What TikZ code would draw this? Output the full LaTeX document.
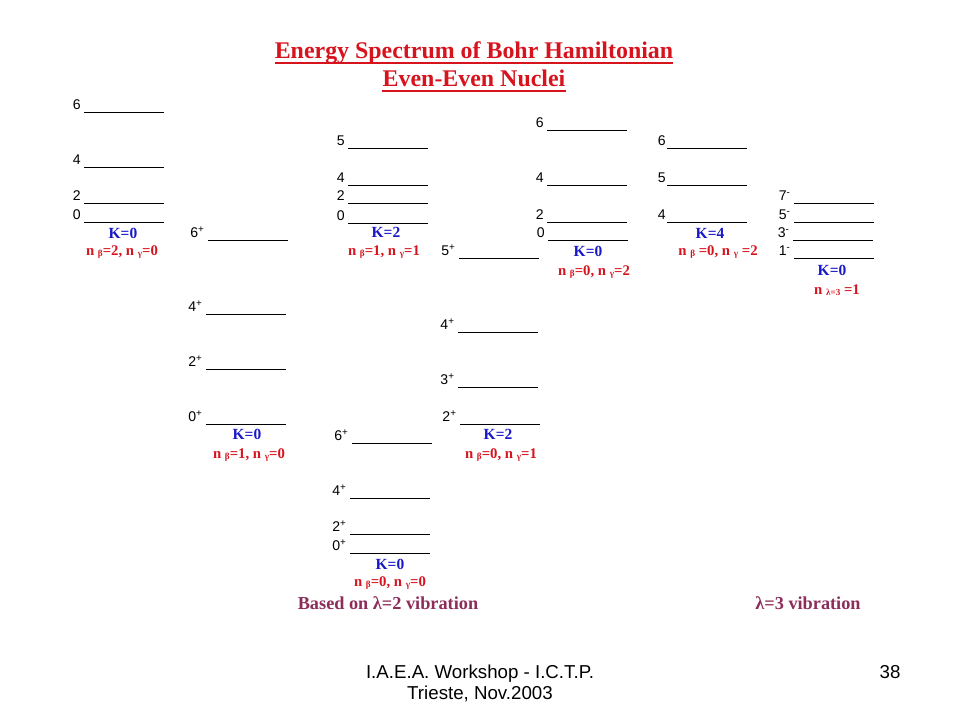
\documentclass[tikz,border=0pt]{standalone}
\usepackage{fontspec}
\setmainfont{Liberation Serif}
\newfontfamily\arialfont{Liberation Sans}
\usepackage{xcolor}
\definecolor{slidered}{RGB}{215,20,30}
\definecolor{kblue}{RGB}{25,25,200}
\definecolor{plum}{RGB}{140,45,90}
\newcommand{\sm}[1]{\raisebox{-0.7pt}{\fontsize{6.5}{6.5}\selectfont #1}}

\begin{document}
\begin{tikzpicture}[x=0.025cm, y=-0.025cm,
    lvl/.style={line width=0.7pt},
    spin/.style={anchor=base east, inner sep=0pt, xshift=-2pt, yshift=1.6pt, font=\arialfont\fontsize{10}{12}\selectfont},
    kband/.style={text=kblue, inner sep=0pt, font=\bfseries\fontsize{11}{13}\selectfont},
    quanta/.style={text=slidered, inner sep=0pt, font=\bfseries\fontsize{10.5}{12}\selectfont},
    heading/.style={anchor=base, inner sep=0pt, text=slidered, font=\bfseries\fontsize{17}{20}\selectfont},
    basis/.style={text=plum, inner sep=0pt, font=\bfseries\fontsize{13}{15}\selectfont},
    footer/.style={anchor=base, inner sep=0pt, font=\arialfont\fontsize{13.3}{16}\selectfont}]
    \useasboundingbox (0,0) rectangle (960,720);

    \node[heading] (title) at (474,59) {Energy Spectrum of Bohr Hamiltonian};
    \node[heading] (subtitle) at (474,87) {Even-Even Nuclei};
    \tikzset{underline/.style={slidered, line width=1.5pt}}
    \draw[underline] ([yshift=-2.8pt]title.base west) -- ([yshift=-2.8pt]title.base east);
    \draw[underline] ([yshift=-2.8pt]subtitle.base west) -- ([yshift=-2.8pt]subtitle.base east);

    \draw[lvl] (84,112) node[spin] (bb6) {6} -- ++(80,0);
    \draw[lvl] (84,167) node[spin] (bb4) {4} -- ++(80,0);
    \draw[lvl] (84,203) node[spin] (bb2) {2} -- ++(80,0);
    \draw[lvl] (84,222) node[spin] (bb0) {0} -- ++(80,0);
    \node[kband] (kbb) at (123,233) {K=0};
    \node[quanta] (nbb) at (122,252) {n \sm{β}=2, n \sm{γ}=0};

    \draw[lvl] (208,240) node[spin] (b6) {6\textsuperscript{+}} -- ++(80,0);
    \draw[lvl] (206,314) node[spin] (b4) {4\textsuperscript{+}} -- ++(80,0);
    \draw[lvl] (206,369) node[spin] (b2) {2\textsuperscript{+}} -- ++(80,0);
    \draw[lvl] (206,424) node[spin] (b0) {0\textsuperscript{+}} -- ++(80,0);
    \node[kband] (kb) at (247,434) {K=0};
    \node[quanta] (nb) at (249,455) {n \sm{β}=1, n \sm{γ}=0};

    \draw[lvl] (348,148) node[spin] (bg5) {5} -- ++(80,0);
    \draw[lvl] (348,185) node[spin] (bg4) {4} -- ++(80,0);
    \draw[lvl] (348,203) node[spin] (bg2) {2} -- ++(80,0);
    \draw[lvl] (348,223) node[spin] (bg0) {0} -- ++(80,0);
    \node[kband] (kbg) at (386,232) {K=2};
    \node[quanta] (nbg) at (384,252) {n \sm{β}=1, n \sm{γ}=1};

    \draw[lvl] (352,443) node[spin] (g6) {6\textsuperscript{+}} -- ++(80,0);
    \draw[lvl] (350,498) node[spin] (g4) {4\textsuperscript{+}} -- ++(80,0);
    \draw[lvl] (350,534) node[spin] (g2) {2\textsuperscript{+}} -- ++(80,0);
    \draw[lvl] (350,553) node[spin] (g0) {0\textsuperscript{+}} -- ++(80,0);
    \node[kband] (kg) at (390,564) {K=0};
    \node[quanta] (ng) at (390,583) {n \sm{β}=0, n \sm{γ}=0};

    \draw[lvl] (459,258) node[spin] (gam5) {5\textsuperscript{+}} -- ++(80,0);
    \draw[lvl] (458,332) node[spin] (gam4) {4\textsuperscript{+}} -- ++(80,0);
    \draw[lvl] (458,387) node[spin] (gam3) {3\textsuperscript{+}} -- ++(80,0);
    \draw[lvl] (460,424) node[spin] (gam2) {2\textsuperscript{+}} -- ++(80,0);
    \node[kband] (kgam) at (498,434) {K=2};
    \node[quanta] (ngam) at (501,455) {n \sm{β}=0, n \sm{γ}=1};

    \draw[lvl] (547,130) node[spin] (gg6) {6} -- ++(80,0);
    \draw[lvl] (547,185) node[spin] (gg4) {4} -- ++(80,0);
    \draw[lvl] (547,222) node[spin] (gg2) {2} -- ++(80,0);
    \draw[lvl] (548,240) node[spin] (gg0) {0} -- ++(80,0);
    \node[kband] (kgg) at (588,251) {K=0};
    \node[quanta] (ngg) at (594,272) {n \sm{β}=0, n \sm{γ}=2};

    \draw[lvl] (667,148) node[spin, xshift=1.5pt] (gk6) {6} -- ++(80,0);
    \draw[lvl] (667,185) node[spin, xshift=1.5pt] (gk5) {5} -- ++(80,0);
    \draw[lvl] (667,222) node[spin, xshift=1.5pt] (gk4) {4} -- ++(80,0);
    \node[kband] (kgk) at (710,233) {K=4};
    \node[quanta] (ngk) at (718,252) {n \sm{β} =0, n \sm{γ} =2};

    \draw[lvl] (794,203) node[spin] (oct7) {7\textsuperscript{-}} -- ++(80,0);
    \draw[lvl] (794,222) node[spin] (oct5) {5\textsuperscript{-}} -- ++(80,0);
    \draw[lvl] (793,240) node[spin] (oct3) {3\textsuperscript{-}} -- ++(80,0);
    \draw[lvl] (794,258) node[spin] (oct1) {1\textsuperscript{-}} -- ++(80,0);
    \node[kband] (koct) at (832,270) {K=0};
    \node[quanta] (noct) at (837,290) {n \sm{λ=3} =1};

    \node[basis] (quad) at (388,603) {Based on λ=2 vibration};
    \node[basis] (octu) at (808,603) {λ=3 vibration};

    \node[footer] (venue) at (480,678) {I.A.E.A. Workshop - I.C.T.P.};
    \node[footer] (place) at (480,699) {Trieste, Nov.2003};
    \node[footer] (page) at (890,678) {38};
\end{tikzpicture}
\end{document}
